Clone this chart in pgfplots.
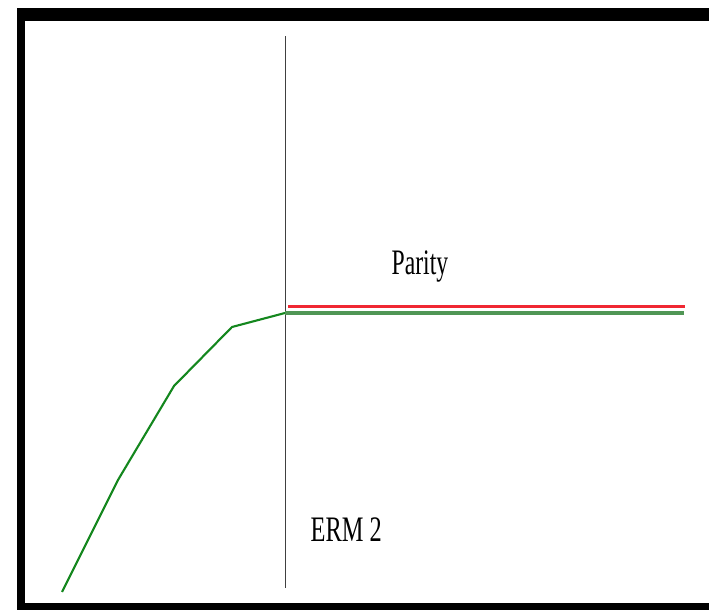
\documentclass[border=0pt]{standalone}
\usepackage{graphicx}
\usepackage{fontspec}
\setmainfont{Liberation Serif}
\usepackage{pgfplots}
\pgfplotsset{compat=1.18}
\definecolor{lgreen}{RGB}{20,135,30}
\definecolor{hgreen}{RGB}{80,150,85}
\definecolor{lred}{RGB}{240,40,50}
\begin{document}
\begin{tikzpicture}
\begin{axis}[
  width=7.09cm, height=6.10cm, scale only axis,
  xmin=0, xmax=709, ymin=0, ymax=610,
  hide axis, clip=true,
]
% frame
\fill[black] (axis cs:17,589) rectangle (axis cs:709,602);
\fill[black] (axis cs:17,0) rectangle (axis cs:25,602);
\fill[black] (axis cs:17,0) rectangle (axis cs:709,7);
% vertical divider
\addplot[black!75, line width=0.45pt] coordinates {(285.5,574) (285.5,22)};
% green curve
\addplot[lgreen, line width=0.6pt] coordinates {
 (62,18) (118,130) (174,224) (232,283) (285,297)};
\addplot[hgreen, line width=0.9pt] coordinates {(285,297) (684,297)};
% red parity line
\addplot[lred, line width=0.65pt] coordinates {(288,303.5) (685,303.5)};
\node[anchor=base west, inner sep=0pt, font=\fontsize{10.2}{12}\selectfont] at (axis cs:391,335) {\scalebox{0.66}[1]{Parity}};
\node[anchor=base west, inner sep=0pt, font=\fontsize{10.2}{12}\selectfont] at (axis cs:310,68) {\scalebox{0.68}[1]{ERM 2}};
\end{axis}
\path[use as bounding box] (current axis.south west) rectangle (current axis.north east);
\end{tikzpicture}
\end{document}
